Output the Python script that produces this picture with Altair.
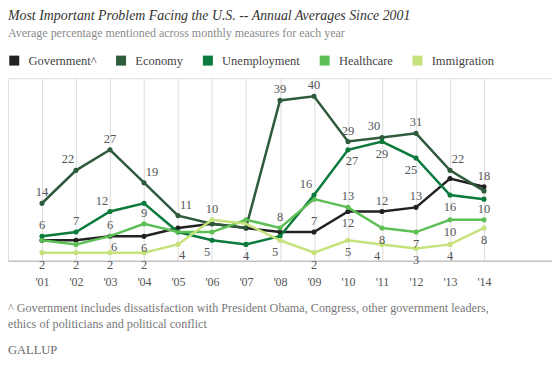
import altair as alt
import pandas as pd

years = list(range(2001, 2015))
series_names = ["Government^", "Economy", "Unemployment", "Healthcare", "Immigration"]
government = [5, 5, 6, 6, 8, 9, 8, 7, 7, 12, 12, 13, 20, 18]
economy = [14, 22, 27, 19, 11, 9, 8, 39, 40, 29, 30, 31, 22, 17]
unemployment = [6, 7, 12, 14, 7, 5, 4, 6, 16, 27, 29, 25, 16, 15]
healthcare = [5, 4, 6, 9, 7, 7, 10, 8, 15, 13, 8, 7, 10, 10]
immigration = [2, 2, 2, 2, 4, 10, 9, 5, 2, 5, 4, 3, 4, 8]
colors = ["#222222", "#2e5b3b", "#0b7a3c", "#5dbf56", "#c6e27c"]

title_text = "Most Important Problem Facing the U.S. -- Annual Averages Since 2001"
subtitle_text = "Average percentage mentioned across monthly measures for each year"
footnote_lines = [
    "^ Government includes dissatisfaction with President Obama, Congress, other government leaders,",
    "ethics of politicians and political conflict",
]
source_text = "GALLUP"

# which points carry a value label, and on which side
labels = [
    ("Economy", 2001, "above"), ("Unemployment", 2001, "above"), ("Immigration", 2001, "below"),
    ("Economy", 2002, "above_left"), ("Unemployment", 2002, "above"), ("Immigration", 2002, "below"),
    ("Economy", 2003, "above"), ("Unemployment", 2003, "above_left"), ("Healthcare", 2003, "above"),
    ("Government^", 2003, "below_right"), ("Immigration", 2003, "below"),
    ("Economy", 2004, "above_right"), ("Healthcare", 2004, "above"), ("Government^", 2004, "below"),
    ("Immigration", 2004, "below"),
    ("Economy", 2005, "above_right"), ("Immigration", 2005, "below_right"),
    ("Immigration", 2006, "above"), ("Unemployment", 2006, "below_left"),
    ("Unemployment", 2007, "below"),
    ("Economy", 2008, "above"), ("Healthcare", 2008, "above"), ("Immigration", 2008, "below_left"),
    ("Economy", 2009, "above"), ("Unemployment", 2009, "above_left"), ("Government^", 2009, "above"),
    ("Immigration", 2009, "below"),
    ("Economy", 2010, "above"), ("Unemployment", 2010, "below_right"), ("Healthcare", 2010, "above"),
    ("Government^", 2010, "below"), ("Immigration", 2010, "below"),
    ("Economy", 2011, "above_left"), ("Unemployment", 2011, "below"), ("Government^", 2011, "above"),
    ("Healthcare", 2011, "below"), ("Immigration", 2011, "below_left"),
    ("Economy", 2012, "above"), ("Unemployment", 2012, "below_left"), ("Government^", 2012, "above"),
    ("Healthcare", 2012, "below"), ("Immigration", 2012, "below"),
    ("Economy", 2013, "above_right"), ("Unemployment", 2013, "below"), ("Healthcare", 2013, "below"),
    ("Immigration", 2013, "below"),
    ("Government^", 2014, "above"), ("Healthcare", 2014, "above"), ("Immigration", 2014, "below"),
]

values = dict(zip(series_names, [government, economy, unemployment, healthcare, immigration]))
rows = []
for s in series_names:
    for i, yr in enumerate(years):
        rows.append({"series": s, "year": yr, "value": values[s][i]})
df = pd.DataFrame(rows)

lab_rows = []
for s, yr, pos in labels:
    lab_rows.append({"series": s, "year": yr, "value": values[s][years.index(yr)], "pos": pos})
ldf = pd.DataFrame(lab_rows)

SERIF = "Liberation Serif"

x_enc = alt.X("year:Q", scale=alt.Scale(domain=[2000, 2016], nice=False, zero=False),
              axis=alt.Axis(values=years, title=None, grid=True, gridColor="#dcdcdc", gridWidth=1,
                            ticks=False, domainColor="#c4c4c4", domainWidth=1.5,
                            labelExpr="\"'\" + substring(toString(datum.value), 2, 4)",
                            labelFont=SERIF, labelFontSize=12, labelColor="#555555",
                            labelPadding=16, labelBaseline="top"))
y_enc = alt.Y("value:Q", scale=alt.Scale(domain=[0, 44.4], nice=False), axis=None)
color_scale = alt.Scale(domain=series_names, range=colors)
legend = alt.Legend(orient="none", legendX=0, legendY=-24, direction="horizontal",
                    columns=5, title=None, symbolType="square", symbolSize=100,
                    symbolStrokeWidth=0, symbolOpacity=1,
                    columnPadding=18, labelOffset=8, labelFont=SERIF, labelFontSize=12.5,
                    labelColor="#444444")

base = alt.Chart(df)
points = base.mark_point(size=26, opacity=1, filled=True, shape="circle").encode(
    x=x_enc, y=y_enc,
    color=alt.Color("series:N", scale=color_scale, sort=series_names, legend=legend),
)
lines = base.mark_line(strokeWidth=2.5).encode(
    x=x_enc, y=y_enc,
    color=alt.Color("series:N", scale=color_scale, sort=series_names, legend=None),
    order="year:Q",
)

offsets = {
    "above": (0, -11), "below": (0, 12), "above_left": (-8, -11), "above_right": (8, -11),
    "below_left": (-5, 12), "below_right": (4, 11),
}
label_layers = []
for pos, (dx, dy) in offsets.items():
    label_layers.append(
        alt.Chart(ldf).transform_filter(alt.datum.pos == pos).mark_text(
            font=SERIF, fontSize=12.5, color="#555555", dx=dx, dy=dy, baseline="middle", align="center"
        ).encode(x=x_enc, y=y_enc, text="value:Q")
    )

def static_text(txt, y, size, color, style="normal"):
    return alt.Chart(pd.DataFrame({"t": [txt]})).mark_text(
        align="left", baseline="alphabetic", font=SERIF, fontSize=size, color=color, fontStyle=style
    ).encode(x=alt.value(0), y=alt.value(y), text="t:N")

texts = [
    static_text(title_text, -58, 13.9, "#333333", "italic"),
    static_text(subtitle_text, -41, 12, "#8a8a8a"),
    static_text(footnote_lines[0], 234, 12.2, "#777777"),
    static_text(footnote_lines[1], 250, 12.2, "#777777"),
    static_text(source_text, 276, 12.5, "#6a6a6a"),
]

chart = alt.layer(points, lines, *label_layers, *texts).properties(
    width=545, height=183,
    autosize=alt.AutoSizeParams(type="none"),
    padding={"left": 0, "top": 70, "right": 0, "bottom": 96},
).configure_view(stroke=None).configure(background="white")

chart.save("out.html", embed_options={"renderer": "svg", "actions": False})
